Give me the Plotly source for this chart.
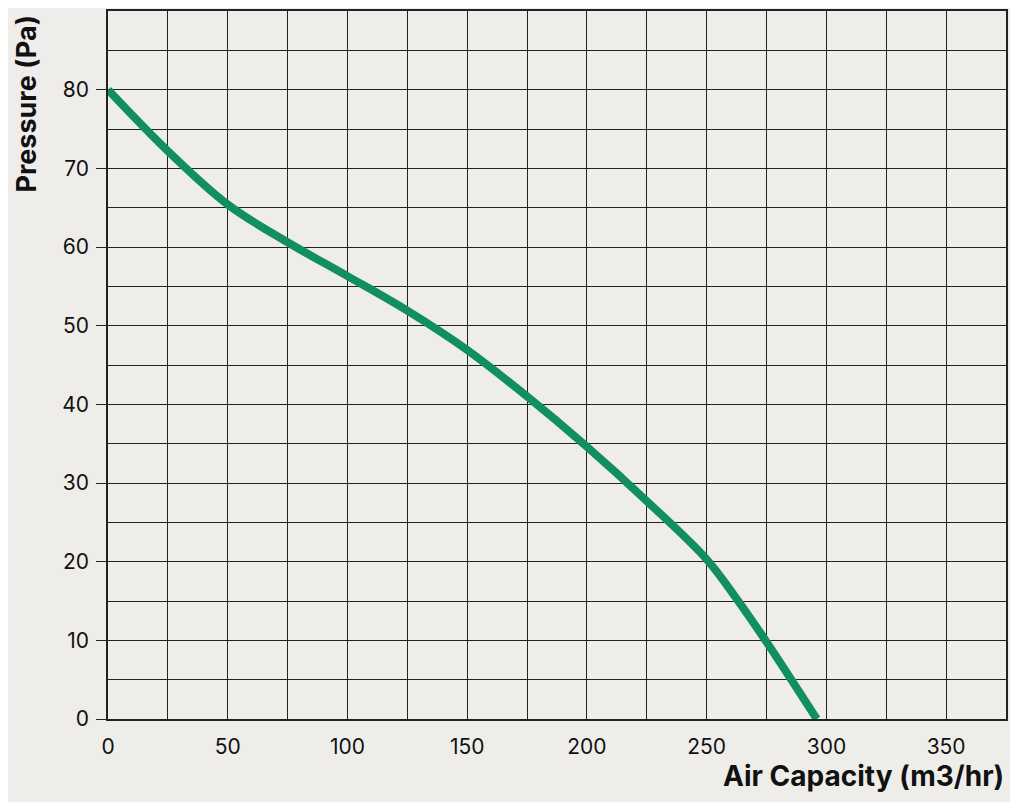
import plotly.graph_objects as go

# Fan curve
air_capacity = [0, 25, 50, 75, 100, 125, 150, 175, 200, 225, 250, 262, 275, 296]
pressure = [80, 72.2, 65.4, 60.6, 56.3, 51.9, 46.9, 41.0, 34.6, 27.7, 20.3, 15.5, 9.8, 0]

x_ticks = [0, 50, 100, 150, 200, 250, 300, 350]
y_ticks = [0, 10, 20, 30, 40, 50, 60, 70, 80]

bg = "#eeedea"
grid = "#222222"
font = "Inter, Noto Sans, sans-serif"

fig = go.Figure()
fig.add_trace(go.Scatter(
    x=air_capacity, y=pressure, mode="lines",
    line=dict(color="#128f5e", width=8, shape="spline", smoothing=1.0),
    hoverinfo="x+y",
))

fig.update_xaxes(
    range=[0, 375], tickvals=x_ticks, showgrid=True, gridcolor=grid, gridwidth=1.2,
    minor=dict(dtick=25, tick0=0, showgrid=True, gridcolor=grid, gridwidth=1.2),
    showline=True, linecolor=grid, linewidth=1.5, mirror=True,
    ticks="", zeroline=False, ticklabelstandoff=8,
    tickfont=dict(family=font, size=21, color="#111"),
)
fig.update_yaxes(
    range=[0, 90], tickvals=y_ticks, showgrid=True, gridcolor=grid, gridwidth=1.2,
    minor=dict(dtick=5, tick0=0, showgrid=True, gridcolor=grid, gridwidth=1.2),
    showline=True, linecolor=grid, linewidth=1.5, mirror=True,
    ticks="outside", ticklen=10, tickcolor=grid, zeroline=False, ticklabelstandoff=3,
    tickfont=dict(family=font, size=21, color="#111"),
)

fig.update_layout(
    width=1010, height=794,
    margin=dict(l=100, r=12, t=1, b=83),
    paper_bgcolor=bg, plot_bgcolor=bg,
    showlegend=False,
    annotations=[
        dict(text="<b>Air Capacity (m3/hr)</b>", xref="paper", yref="paper",
             x=1.0, y=-0.080, xanchor="right", yanchor="middle", showarrow=False,
             font=dict(family=font, size=28, color="#111")),
        dict(text="<b>Pressure (Pa)</b>", xref="paper", yref="paper",
             x=-0.091, y=0.996, xanchor="center", yanchor="top", textangle=-90,
             showarrow=False, font=dict(family=font, size=27, color="#111")),
    ],
)

fig.write_html("out.html")
